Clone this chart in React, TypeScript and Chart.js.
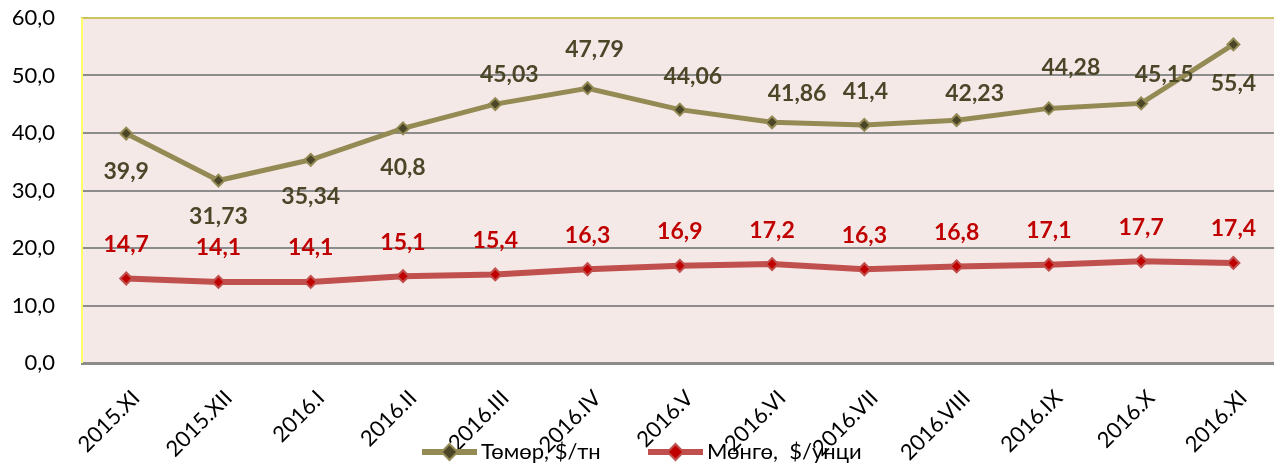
import React, { useEffect, useRef } from "react";
import { Chart, registerables } from "chart.js";

Chart.register(...registerables);

const categories = [
  "2015.XI", "2015.XII", "2016.I", "2016.II", "2016.III", "2016.IV", "2016.V",
  "2016.VI", "2016.VII", "2016.VIII", "2016.IX", "2016.X", "2016.XI",
];
const ironValues = [39.9, 31.73, 35.34, 40.8, 45.03, 47.79, 44.06, 41.86, 41.4, 42.23, 44.28, 45.15, 55.4];
const silverValues = [14.7, 14.1, 14.1, 15.1, 15.4, 16.3, 16.9, 17.2, 16.3, 16.8, 17.1, 17.7, 17.4];
const ironLabel = "Төмөр, $/тн";
const silverLabel = "Мөнгө,  $/унци";
const yTicks = [0, 10, 20, 30, 40, 50, 60];

// label placement (style), offsets in px from the point
const ironLabelOffsets = [
  [0, 38], [0, 36], [0, 37], [0, 39], [14, -29], [7, -39], [13, -33],
  [25, -29], [1, -33], [18, -27], [22, -41], [23, -29], [0, 39],
];
const silverLabelOffset = [0, -34];

const IRON_LINE = "#948A54";
const IRON_DARK = "#4B4628";
const SILVER_LINE = "#C0504D";
const SILVER_DARK = "#C00000";
const FONT = 'Lato, "Noto Sans", sans-serif';

const fmt = (v: number) => String(v).replace(".", ",");

const bgPlugin = {
  id: "bgPlugin",
  beforeDraw(chart: any) {
    const { ctx, chartArea } = chart;
    ctx.save();
    ctx.fillStyle = "#F5E9E8";
    ctx.fillRect(chartArea.left, chartArea.top, chartArea.right - chartArea.left, chartArea.bottom - chartArea.top);
    ctx.restore();
  },
  beforeDatasetsDraw(chart: any) {
    const { ctx, chartArea } = chart;
    ctx.save();
    ctx.strokeStyle = "#FFFF66";
    ctx.lineWidth = 2;
    ctx.beginPath();
    ctx.moveTo(chartArea.left + 1, chartArea.top);
    ctx.lineTo(chartArea.left + 1, chartArea.bottom);
    ctx.stroke();
    ctx.restore();
  },
};

const labelPlugin = {
  id: "labelPlugin",
  afterDatasetsDraw(chart: any) {
    const { ctx } = chart;
    ctx.save();
    ctx.font = `bold 23px ${FONT}`;
    ctx.textAlign = "center";
    ctx.textBaseline = "middle";
    chart.data.datasets.forEach((ds: any, di: number) => {
      const meta = chart.getDatasetMeta(di);
      meta.data.forEach((pt: any, i: number) => {
        const off = di === 0 ? ironLabelOffsets[i] : silverLabelOffset;
        ctx.fillStyle = di === 0 ? IRON_DARK : SILVER_DARK;
        ctx.fillText(fmt(ds.data[i].y), pt.x + off[0], pt.y + off[1]);
      });
    });
    ctx.restore();
  },
  afterDraw(chart: any) {
    const { ctx } = chart;
    const y = 452;
    const items = [
      { start: 422, text: ironLabel, line: IRON_LINE, fill: IRON_DARK },
      { start: 648, text: silverLabel, line: SILVER_LINE, fill: SILVER_DARK },
    ];
    ctx.save();
    items.forEach((it) => {
      ctx.strokeStyle = it.line;
      ctx.lineWidth = 6;
      ctx.beginPath();
      ctx.moveTo(it.start, y);
      ctx.lineTo(it.start + 55, y);
      ctx.stroke();
      const mx = it.start + 27.5;
      const r = 8;
      ctx.beginPath();
      ctx.moveTo(mx, y - r);
      ctx.lineTo(mx + r, y);
      ctx.lineTo(mx, y + r);
      ctx.lineTo(mx - r, y);
      ctx.closePath();
      ctx.fillStyle = it.fill;
      ctx.fill();
      ctx.lineWidth = 2;
      ctx.stroke();
      ctx.fillStyle = "#000";
      ctx.font = `22px ${FONT}`;
      ctx.textAlign = "left";
      ctx.textBaseline = "middle";
      ctx.fillText(it.text, it.start + 59, y);
    });
    ctx.restore();
  },
};

export default function App() {
  const ref = useRef<HTMLCanvasElement | null>(null);
  useEffect(() => {
    if (!ref.current) return;
    const chart = new Chart(ref.current, {
      type: "line",
      data: {
        datasets: [
          {
            label: ironLabel,
            data: ironValues.map((v, i) => ({ x: i, y: v })),
            borderColor: IRON_LINE,
            borderWidth: 5,
            pointStyle: "rectRot",
            pointRadius: 6,
            pointBackgroundColor: IRON_DARK,
            pointBorderColor: IRON_LINE,
            pointBorderWidth: 2,
            tension: 0,
          },
          {
            label: silverLabel,
            data: silverValues.map((v, i) => ({ x: i, y: v })),
            borderColor: SILVER_LINE,
            borderWidth: 6,
            pointStyle: "rectRot",
            pointRadius: 6,
            pointBackgroundColor: SILVER_DARK,
            pointBorderColor: SILVER_LINE,
            pointBorderWidth: 2,
            tension: 0,
          },
        ],
      },
      options: {
        animation: false,
        responsive: false,
        layout: { padding: { top: 18, left: 0, right: 0, bottom: 0 } },
        plugins: {
          legend: { display: false },
          tooltip: { enabled: false },
        },
        scales: {
          x: {
            type: "linear",
            min: -0.49,
            max: 12.44,
            grid: { display: false, drawTicks: false },
            border: { display: false },
            afterBuildTicks: (scale: any) => {
              scale.ticks = categories.map((_, i) => ({ value: i }));
            },
            afterFit: (scale: any) => {
              scale.height = 105;
              scale.paddingLeft = 0;
              scale.paddingRight = 0;
            },
            ticks: {
              autoSkip: false,
              minRotation: 45,
              maxRotation: 45,
              padding: 22,
              labelOffset: 10,
              color: "#000",
              font: { family: FONT, size: 22 },
              callback: (v: any) => categories[v] ?? "",
            },
          },
          y: {
            min: 0,
            max: 60,
            afterBuildTicks: (scale: any) => {
              scale.ticks = yTicks.map((v) => ({ value: v }));
            },
            afterFit: (scale: any) => {
              scale.width = 81;
              scale.paddingTop = 0;
              scale.paddingBottom = 0;
            },
            border: { display: false },
            grid: {
              drawTicks: false,
              color: (c: any) => (c.tick && c.tick.value === 60 ? "#C9C35C" : "#8C8C8C"),
              lineWidth: (c: any) => (c.tick && c.tick.value === 0 ? 3 : 2),
            },
            ticks: {
              padding: 26,
              color: "#000",
              font: { family: FONT, size: 22 },
              callback: (v: any) => Number(v).toFixed(1).replace(".", ","),
            },
          },
        },
      },
      plugins: [bgPlugin, labelPlugin],
    });
    return () => chart.destroy();
  }, []);
  return (
    <div style={{ position: "fixed", left: 0, top: 0, width: 1282, height: 468, background: "#fff", overflow: "hidden" }}>
      <canvas ref={ref} width={1282} height={468} style={{ display: "block", width: 1282, height: 468 }} />
    </div>
  );
}
